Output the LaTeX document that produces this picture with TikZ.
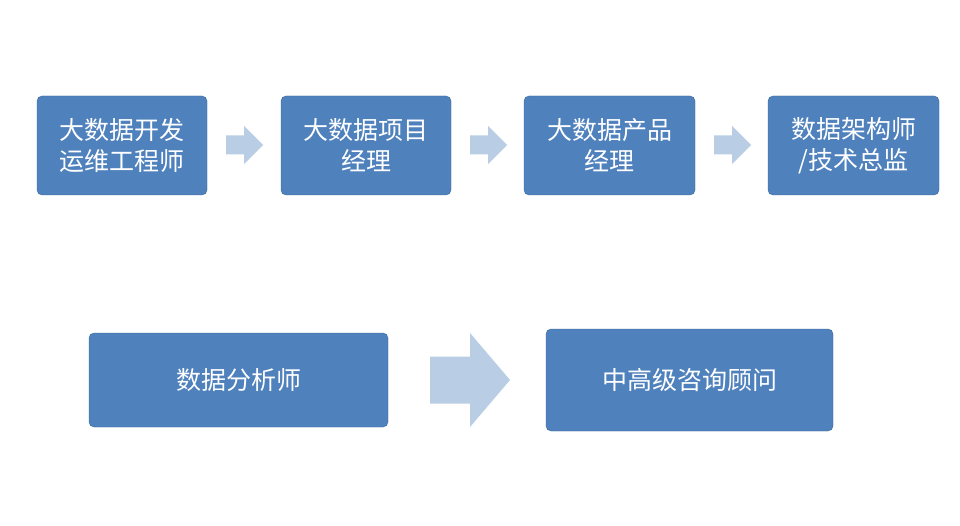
\documentclass[tikz,border=0pt]{standalone}
\usepackage{fontspec}
\newfontfamily\cjk{Noto Sans CJK SC}
\usetikzlibrary{positioning}
\definecolor{boxblue}{HTML}{4F81BD}
\definecolor{arrblue}{HTML}{B9CDE5}
\tikzset{
  stage/.style={rectangle,rounded corners=5pt,fill=boxblue,draw=boxblue!80!black,
    text=white,font=\cjk\fontsize{25}{31}\selectfont,align=center,inner sep=0pt},
  flow/.style={fill=arrblue}
}
\newcommand{\blockarrow}[5]{% x0, x1(head start), x2(tip), ymid, half head
  \fill[flow] (#1,#4-#5*0.5) -- (#2,#4-#5*0.5) -- (#2,#4-#5) -- (#3,#4) -- (#2,#4+#5)
    -- (#2,#4+#5*0.5) -- (#1,#4+#5*0.5) -- cycle;}
\begin{document}
\begin{tikzpicture}[x=1pt,y=-1pt]
  \useasboundingbox (0,0) rectangle (960,526);
  \fill[white] (0,0) rectangle (960,526);
  % top row
  \node[stage,minimum width=170pt,minimum height=99pt] (dev) at (122,145.5) {大数据开发\\运维工程师};
  \node[stage,minimum width=170pt,minimum height=99pt] (pm) at (366,145.5) {大数据项目\\经理};
  \node[stage,minimum width=171pt,minimum height=99pt] (prod) at (609.5,145.5) {大数据产品\\经理};
  \node[stage,minimum width=171pt,minimum height=99pt] (arch) at (853.5,145.5) {数据架构师\\/技术总监};
  % bottom row
  \node[stage,minimum width=299pt,minimum height=94pt] (ana) at (238.5,380) {数据分析师};
  \node[stage,minimum width=287pt,minimum height=102pt] (cons) at (689.5,380) {中高级咨询顾问};
  % arrows
  \blockarrow{226}{244}{263}{145}{19}
  \blockarrow{470}{488}{507}{145}{19}
  \blockarrow{714}{732}{751}{145}{19}
  \blockarrow{430}{470}{510}{380}{47}
\end{tikzpicture}
\end{document}
